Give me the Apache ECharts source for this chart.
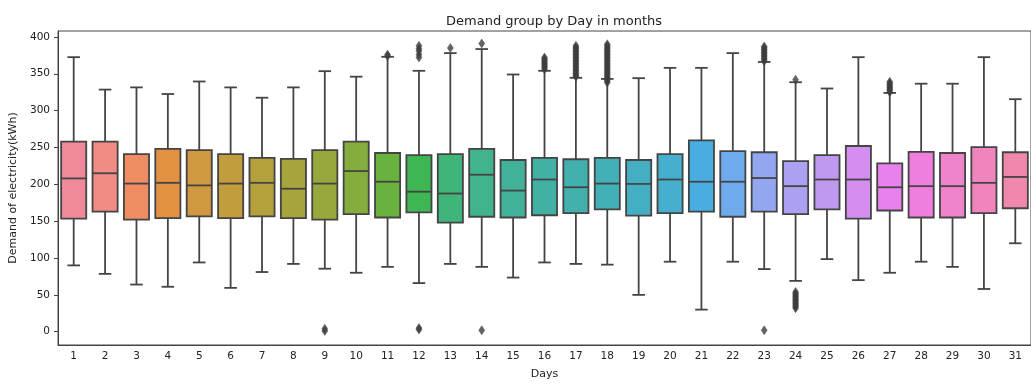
<!DOCTYPE html>
<html>
<head>
<meta charset="utf-8">
<script src="https://cdn.jsdelivr.net/npm/echarts@6/dist/echarts.min.js"></script>
<style>html,body{margin:0;padding:0;background:#fff;}#c{width:1031px;height:385px;}</style>
</head>
<body>
<div id="c"></div>
<script>
// ---- data ----
const days = ['1','2','3','4','5','6','7','8','9','10','11','12','13','14','15','16','17','18','19','20','21','22','23','24','25','26','27','28','29','30','31'];
const whiskerLow = [90,78.5,64,61,94,59.5,81,92,85.5,80,88,66,92,88,73.5,94,92,91,50,95,30,95,85,69,98.5,70,80,95,88,58,120];
const q1 = [153.5,163,152,154,156.5,154,156.5,154,152,159.5,155,162,148,156,155,158,161,166,157.5,161,163,156,163,159.5,166,153.5,164.5,155,155,161,167.5];
const median = [208,215,201,202,198.5,201,202,194,201,218,203.5,190,187.5,213,191.5,206.5,196,201,200.5,206.5,203.5,203.5,208.5,197.5,206.5,206.5,196,197.5,197.5,202,210];
const q3 = [258,258,241,248,246.5,241,236,234.5,246.5,258,242.5,239.5,241,248,233,236,234,236,233,241,259.5,245,243.5,231.5,239.5,252,228.5,244,242.5,250.5,243.5];
const whiskerHigh = [372.5,328.5,331.5,322.5,339.5,331.5,317.5,331.5,353.5,346,373,354,378,383.5,349,354,344.5,343,344,358,358,378,366,338.5,330,372.5,324,336.5,336.5,372.5,315.5];
// outliers: day label -> values
const outlierDays = ['9','11','12','13','14','16','17','18','23','24','27'];
const outlierValues = [
  [1,4],
  [374,376],
  [372,376,381,384,388,3,5],
  [385],
  [391,2],
  [356,358,360,362,364,366,368,370,372],
  [346,348,350,352,354,356,358,360,362,364,366,368,370,372,374,376,378,380,382,384,386,388],
  [338,340,342,344,346,348,350,352,354,356,358,360,362,364,366,368,370,372,374,376,378,380,382,384,386,388,390],
  [367,369,371,373,375,377,379,381,383,385,387,2],
  [342,32,34,36,38,40,42,44,46,48,50,52,54],
  [325,327,329,331,333,335,337,339]
];
const yTicks = [0,50,100,150,200,250,300,350,400];

// ---- seaborn-like husl palette (style) ----
const M = [[3.2406,-1.5372,-0.4986],[-0.9689,1.8758,0.0415],[0.0557,-0.2040,1.0570]];
const refU=0.19784, refV=0.46834, labE=0.008856, labK=903.3;
function maxChroma(L,H){const hr=H/360*Math.PI*2,sH=Math.sin(hr),cH=Math.cos(hr);
  const s1=Math.pow(L+16,3)/1560896; const s2=s1>labE?s1:L/labK; let r=Infinity;
  for(const [m1,m2,m3] of M){const top=(0.99915*m1+1.05122*m2+1.14460*m3)*s2;
    const rb=0.86330*m3-0.17266*m2, lb=0.12949*m3-0.38848*m1; const bot=(rb*sH+lb*cH)*s2;
    for(const t of [0,1]){const C=L*(top-1.05122*t)/(bot+0.17266*sH*t); if(C>0&&C<r)r=C;}}
  return r;}
function fInv(t){return Math.pow(t,3)>labE?Math.pow(t,3):(116*t-16)/labK;}
function fromLin(c){return c<=0.0031308?12.92*c:1.055*Math.pow(c,1/2.4)-0.055;}
function husl(H,S,L){const C=maxChroma(L,H)/100*S; const hr=H/360*Math.PI*2;
  const U=Math.cos(hr)*C,V=Math.sin(hr)*C; const vY=fInv((L+16)/116);
  const vU=U/(13*L)+refU, vV=V/(13*L)+refV; const Y=vY; const X=-(9*Y*vU)/((vU-4)*vV-vU*vV);
  const Z=(9*Y-15*vV*Y-vV*X)/(3*vV);
  return M.map(r=>Math.min(1,Math.max(0,fromLin(r[0]*X+r[1]*Y+r[2]*Z))));}
function rgb2hls(r,g,b){const mx=Math.max(r,g,b),mn=Math.min(r,g,b);const l=(mx+mn)/2;if(mx===mn)return[0,l,0];
  const d=mx-mn;const s=l<=0.5?d/(mx+mn):d/(2-mx-mn);let h;
  const rc=(mx-r)/d,gc=(mx-g)/d,bc=(mx-b)/d;
  if(r===mx)h=bc-gc;else if(g===mx)h=2+rc-bc;else h=4+gc-rc; h=((h/6)%1+1)%1;return[h,l,s];}
function hv(m1,m2,h){h=((h%1)+1)%1;if(h<1/6)return m1+(m2-m1)*h*6;if(h<0.5)return m2;if(h<2/3)return m1+(m2-m1)*(2/3-h)*6;return m1;}
function hls2rgb(h,l,s){if(s===0)return[l,l,l];const m2=l<=0.5?l*(1+s):l+s-l*s;const m1=2*l-m2;return[hv(m1,m2,h+1/3),hv(m1,m2,h),hv(m1,m2,h-1/3)];}
const colors = days.map((d,i)=>{const h=(i/days.length+0.01)%1; const rgb=husl(h*359,0.9*99,0.69*99);
  const [hh,l,s]=rgb2hls(...rgb); const o=hls2rgb(hh,l,s*0.88);
  return 'rgb('+o.map(c=>Math.round(c*255)).join(',')+')';});

const boxData = days.map((d,i)=>[i, whiskerLow[i], q1[i], median[i], q3[i], whiskerHigh[i]]);
const outData = [];
outlierDays.forEach((d,k)=>{outlierValues[k].forEach(val=>outData.push([days.indexOf(d), val]));});

const LINE='#444', LW=1.8;
const chart = echarts.init(document.getElementById('c'));
chart.setOption({
  animation:false,
  backgroundColor:'#fff',
  title:{text:'Demand group by Day in months',left:549,textAlign:'center',top:10,
    textStyle:{fontFamily:'DejaVu Sans',fontSize:13,fontWeight:'normal',color:'#222'}},
  grid:{left:58,top:31,bottom:34,right:-9,show:true,borderColor:'#444',borderWidth:1,backgroundColor:'transparent'},
  xAxis:{type:'category',data:days,boundaryGap:true,name:'Days',nameLocation:'middle',nameGap:24,
    nameTextStyle:{fontFamily:'DejaVu Sans',fontSize:11,color:'#222'},
    axisLine:{onZero:false,lineStyle:{color:'#444',width:1}},
    axisTick:{alignWithLabel:true,length:4,lineStyle:{color:'#444'}},
    axisLabel:{fontFamily:'DejaVu Sans',fontSize:10.5,color:'#222',margin:6,interval:0},
    splitLine:{show:false}},
  yAxis:{type:'value',min:-18,max:408,name:'Demand of electricity(kWh)',nameLocation:'middle',nameGap:36,
    nameTextStyle:{fontFamily:'DejaVu Sans',fontSize:11,color:'#222'},
    axisLine:{show:true,lineStyle:{color:'#444',width:1}},
    axisTick:{show:true,length:4,lineStyle:{color:'#444'},customValues:yTicks},
    axisLabel:{fontFamily:'DejaVu Sans',fontSize:10.5,color:'#222',margin:8,customValues:yTicks},
    splitLine:{show:false}},
  series:[
    {type:'custom',data:boxData,encode:{x:0,y:[1,2,3,4,5]},z:2,
     renderItem:function(params,api){
       const x=api.value(0);
       const bw=api.size([1,0])[0]; const half=bw*0.4, cap=bw*0.2;
       const pLo=api.coord([x,api.value(1)]), pQ1=api.coord([x,api.value(2)]), pMed=api.coord([x,api.value(3)]),
             pQ3=api.coord([x,api.value(4)]), pHi=api.coord([x,api.value(5)]);
       const cx=pMed[0];
       const ls={stroke:LINE,lineWidth:LW};
       return {type:'group',children:[
         {type:'line',shape:{x1:cx,y1:pLo[1],x2:cx,y2:pQ1[1]},style:ls},
         {type:'line',shape:{x1:cx,y1:pQ3[1],x2:cx,y2:pHi[1]},style:ls},
         {type:'line',shape:{x1:cx-cap,y1:pLo[1],x2:cx+cap,y2:pLo[1]},style:ls},
         {type:'line',shape:{x1:cx-cap,y1:pHi[1],x2:cx+cap,y2:pHi[1]},style:ls},
         {type:'rect',shape:{x:cx-half,y:pQ3[1],width:half*2,height:pQ1[1]-pQ3[1]},
          style:{fill:colors[params.dataIndex],stroke:LINE,lineWidth:LW}},
         {type:'line',shape:{x1:cx-half,y1:pMed[1],x2:cx+half,y2:pMed[1]},style:ls}
       ]};
     }},
    {type:'scatter',data:outData,symbol:'diamond',symbolSize:[6,9],z:3,
     itemStyle:{color:'#3d3d3d',borderColor:'#3d3d3d',borderWidth:0.5}}
  ]
});
</script>
</body>
</html>
